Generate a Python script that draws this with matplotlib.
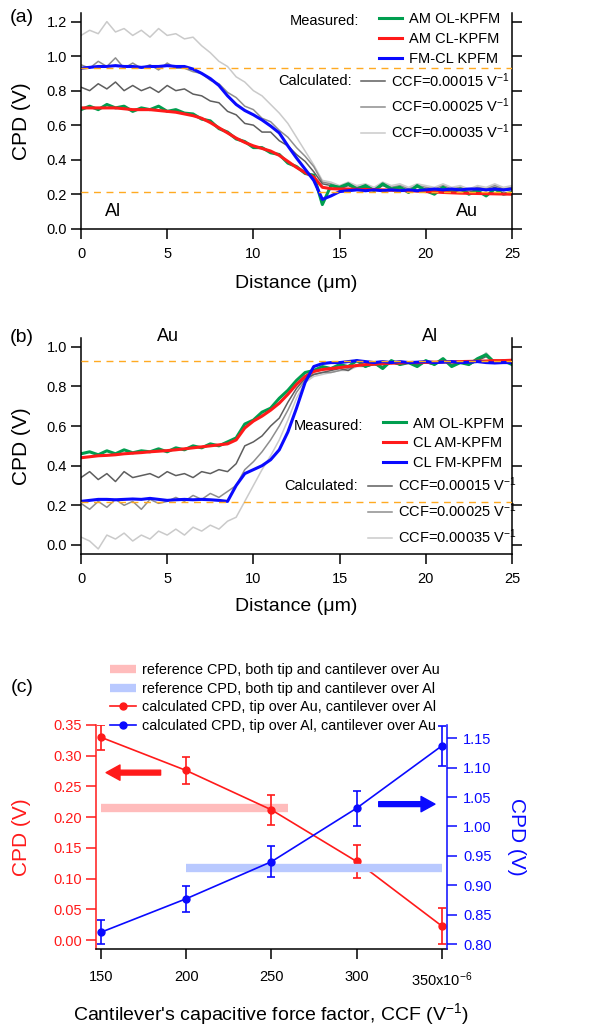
import numpy as np
import matplotlib
matplotlib.use('Agg')
import matplotlib.pyplot as plt
from matplotlib.ticker import FormatStrFormatter

plt.rcParams['font.family'] = ['Liberation Sans', 'DejaVu Sans']
plt.rcParams['mathtext.fontset'] = 'custom'
plt.rcParams['mathtext.rm'] = 'Liberation Sans'
plt.rcParams['mathtext.it'] = 'Liberation Sans:italic'
plt.rcParams['mathtext.default'] = 'regular'

# ---- data: CPD line profiles, sampled every 0.5 um ----
distance = np.arange(0, 25.01, 0.5)

# (a) tip scans from Al onto Au
a_am_ol = [0.69, 0.71, 0.69, 0.72, 0.70, 0.71, 0.68, 0.70, 0.69, 0.71,
           0.68, 0.69, 0.67, 0.665, 0.635, 0.625, 0.58, 0.56, 0.52, 0.505,
           0.47, 0.47, 0.44, 0.43, 0.38, 0.36, 0.32, 0.31, 0.14, 0.25,
           0.24, 0.26, 0.23, 0.25, 0.22, 0.26, 0.23, 0.24, 0.21, 0.25,
           0.22, 0.20, 0.24, 0.21, 0.23, 0.20, 0.22, 0.19, 0.23, 0.20,
           0.21]
a_am_cl = [0.700, 0.700, 0.700, 0.700, 0.700, 0.695, 0.690, 0.690, 0.690, 0.685,
           0.680, 0.675, 0.665, 0.655, 0.640, 0.615, 0.585, 0.555, 0.525, 0.500,
           0.480, 0.465, 0.450, 0.425, 0.390, 0.355, 0.325, 0.300, 0.240, 0.232,
           0.230, 0.230, 0.228, 0.227, 0.226, 0.225, 0.223, 0.222, 0.220, 0.218,
           0.215, 0.213, 0.210, 0.208, 0.206, 0.205, 0.204, 0.203, 0.202, 0.201,
           0.200]
a_fm_cl = [0.930, 0.935, 0.940, 0.940, 0.945, 0.940, 0.940, 0.935, 0.940, 0.940,
           0.945, 0.940, 0.940, 0.925, 0.900, 0.870, 0.830, 0.770, 0.720, 0.685,
           0.660, 0.630, 0.595, 0.555, 0.480, 0.410, 0.345, 0.280, 0.170, 0.190,
           0.215, 0.220, 0.225, 0.220, 0.225, 0.220, 0.225, 0.220, 0.225, 0.220,
           0.225, 0.230, 0.225, 0.230, 0.225, 0.230, 0.230, 0.225, 0.230, 0.225,
           0.230]
a_ccf15 = [0.82, 0.80, 0.84, 0.81, 0.85, 0.80, 0.83, 0.80, 0.82, 0.79,
           0.83, 0.80, 0.81, 0.78, 0.77, 0.74, 0.73, 0.68, 0.66, 0.61,
           0.60, 0.56, 0.56, 0.51, 0.48, 0.43, 0.39, 0.33, 0.26, 0.25,
           0.23, 0.25, 0.23, 0.24, 0.22, 0.25, 0.23, 0.24, 0.22, 0.24,
           0.23, 0.22, 0.24, 0.22, 0.23, 0.21, 0.23, 0.22, 0.24, 0.22,
           0.23]
a_ccf25 = [0.95, 0.93, 0.97, 0.94, 0.99, 0.93, 0.96, 0.93, 0.95, 0.92,
           0.96, 0.93, 0.93, 0.91, 0.90, 0.86, 0.84, 0.79, 0.76, 0.71,
           0.69, 0.64, 0.62, 0.57, 0.53, 0.47, 0.42, 0.36, 0.27, 0.26,
           0.24, 0.26, 0.24, 0.25, 0.23, 0.26, 0.24, 0.25, 0.23, 0.25,
           0.24, 0.23, 0.25, 0.23, 0.24, 0.22, 0.24, 0.23, 0.25, 0.23,
           0.24]
a_ccf35 = [1.12, 1.15, 1.13, 1.20, 1.14, 1.16, 1.12, 1.15, 1.11, 1.16,
           1.12, 1.13, 1.10, 1.11, 1.06, 1.02, 0.97, 0.94, 0.88, 0.85,
           0.80, 0.77, 0.72, 0.67, 0.61, 0.53, 0.45, 0.37, 0.28, 0.27,
           0.25, 0.27, 0.25, 0.26, 0.24, 0.27, 0.25, 0.26, 0.24, 0.26,
           0.25, 0.24, 0.26, 0.24, 0.25, 0.23, 0.25, 0.24, 0.26, 0.24,
           0.25]

# (b) tip scans from Au onto Al
b_am_ol = [0.46, 0.47, 0.455, 0.475, 0.46, 0.48, 0.465, 0.475, 0.47, 0.485,
           0.47, 0.49, 0.48, 0.50, 0.49, 0.51, 0.50, 0.52, 0.54, 0.61,
           0.63, 0.67, 0.69, 0.74, 0.78, 0.83, 0.87, 0.88, 0.90, 0.89,
           0.91, 0.90, 0.93, 0.90, 0.92, 0.89, 0.93, 0.91, 0.92, 0.90,
           0.93, 0.91, 0.94, 0.90, 0.92, 0.91, 0.94, 0.96, 0.92, 0.93,
           0.91]
b_cl_am = [0.440, 0.445, 0.450, 0.452, 0.455, 0.460, 0.463, 0.466, 0.470, 0.473,
           0.476, 0.480, 0.485, 0.490, 0.495, 0.500, 0.505, 0.510, 0.530, 0.590,
           0.625, 0.650, 0.680, 0.715, 0.760, 0.810, 0.850, 0.875, 0.885, 0.890,
           0.895, 0.900, 0.905, 0.910, 0.912, 0.915, 0.917, 0.918, 0.920, 0.920,
           0.921, 0.922, 0.923, 0.924, 0.925, 0.926, 0.927, 0.928, 0.930, 0.930,
           0.932]
b_cl_fm = [0.220, 0.225, 0.230, 0.230, 0.228, 0.230, 0.232, 0.230, 0.235, 0.230,
           0.225, 0.228, 0.230, 0.228, 0.230, 0.228, 0.225, 0.220, 0.300, 0.360,
           0.380, 0.400, 0.430, 0.480, 0.570, 0.690, 0.820, 0.900, 0.915, 0.920,
           0.920, 0.925, 0.930, 0.925, 0.920, 0.925, 0.920, 0.925, 0.920, 0.922,
           0.925, 0.920, 0.922, 0.925, 0.920, 0.922, 0.925, 0.920, 0.918, 0.920,
           0.920]
b_ccf15 = [0.34, 0.37, 0.33, 0.36, 0.32, 0.37, 0.34, 0.35, 0.36, 0.34,
           0.37, 0.35, 0.36, 0.34, 0.37, 0.36, 0.38, 0.37, 0.41, 0.50,
           0.52, 0.55, 0.60, 0.64, 0.72, 0.79, 0.84, 0.86, 0.87, 0.88,
           0.89, 0.88, 0.91, 0.90, 0.91, 0.90, 0.92, 0.91, 0.92, 0.91,
           0.92, 0.91, 0.93, 0.91, 0.92, 0.91, 0.93, 0.95, 0.92, 0.93,
           0.92]
b_ccf25 = [0.21, 0.18, 0.22, 0.19, 0.23, 0.20, 0.22, 0.18, 0.23, 0.21,
           0.22, 0.24, 0.22, 0.25, 0.23, 0.26, 0.24, 0.27, 0.30, 0.38,
           0.42, 0.47, 0.53, 0.60, 0.68, 0.77, 0.83, 0.86, 0.87, 0.87,
           0.88, 0.89, 0.91, 0.90, 0.91, 0.90, 0.92, 0.91, 0.92, 0.91,
           0.92, 0.91, 0.93, 0.91, 0.92, 0.91, 0.93, 0.96, 0.92, 0.93,
           0.92]
b_ccf35 = [0.04, 0.02, -0.02, 0.05, 0.03, 0.06, 0.02, 0.05, 0.03, 0.07,
           0.05, 0.08, 0.05, 0.09, 0.07, 0.10, 0.08, 0.12, 0.14, 0.22,
           0.30, 0.38, 0.45, 0.53, 0.63, 0.74, 0.82, 0.85, 0.86, 0.87,
           0.88, 0.88, 0.90, 0.90, 0.91, 0.90, 0.92, 0.91, 0.92, 0.91,
           0.92, 0.91, 0.93, 0.91, 0.92, 0.91, 0.93, 0.97, 0.92, 0.93,
           0.92]

# reference CPD levels (orange dashed lines)
ref_al_level = 0.93
ref_au_level = 0.215

# (c) CPD vs cantilever capacitive force factor (x1e-6 V^-1)
ccf = [150, 200, 250, 300, 350]
cpd_tip_au = [0.330, 0.276, 0.212, 0.128, 0.023]
err_tip_au = [0.020, 0.022, 0.024, 0.027, 0.029]
cpd_tip_al = [0.820, 0.877, 0.940, 1.031, 1.137]
err_tip_al = [0.020, 0.022, 0.026, 0.030, 0.034]
ref_au_ccf = [150, 260]
ref_au_cpd = [0.215, 0.215]
ref_al_ccf = [200, 350]
ref_al_cpd = [0.93, 0.93]

calc_labels = ['CCF=0.00015 V$^{-1}$', 'CCF=0.00025 V$^{-1}$', 'CCF=0.00035 V$^{-1}$']

W, H = 590, 1028
GREEN = '#009e4f'
RED = '#ff1a1a'
BLUE = '#0a0aff'
GRAYS = ['#5e5e5e', '#8e8e8e', '#cacaca']
ORANGE = '#ffaa22'


def fx(px):
    return px / W


def fy(py):
    return 1 - py / H


fig = plt.figure(figsize=(W / 100, H / 100), dpi=100)


def profile_panel(rect, calc, measured, meas_labels, ylim, ytop, ylabel_y, anchors, texts):
    ax = fig.add_axes(rect)
    calc_lines = []
    for vals, c in zip(calc[::-1], GRAYS[::-1]):
        calc_lines.insert(0, ax.plot(distance, vals, color=c, lw=1.1)[0])
    meas_lines = []
    for vals, c in zip(measured, [GREEN, RED, BLUE]):
        meas_lines.append(ax.plot(distance, vals, color=c, lw=2.2)[0])
    ax.axhline(ref_al_level, color=ORANGE, lw=1.0, ls=(0, (5, 4)), zorder=5)
    ax.axhline(ref_au_level, color=ORANGE, lw=1.0, ls=(0, (5, 4)), zorder=5)

    ax.set_xlim(0, 25)
    ax.set_ylim(*ylim)
    ax.set_yticks(np.arange(0, ytop + 0.01, 0.2))
    ax.yaxis.set_major_formatter(FormatStrFormatter('%.1f'))
    ax.spines['top'].set_visible(False)
    for s in ax.spines.values():
        s.set_linewidth(1.1)
    ax.tick_params(axis='y', direction='out', length=7, width=1.1, right=True,
                   labelsize=10.5, pad=3)
    ax.tick_params(axis='x', direction='out', length=7, width=1.1, labelsize=10.5, pad=6)
    ax.set_xlabel('Distance (\u03bcm)', fontsize=14)
    ax.xaxis.set_label_coords(0.5, ylabel_y)
    ax.set_ylabel('CPD (V)', fontsize=15)
    ax.yaxis.set_label_coords(-0.115, 0.5)

    for x, y, s in texts:
        ax.text(x, y, s, fontsize=13, ha='center', va='center', clip_on=False)

    (mx, my, mtx), (cx, cy, ctx) = anchors
    fig.legend(meas_lines, meas_labels, loc='upper left',
               bbox_to_anchor=(fx(mx), fy(my)), frameon=False, borderpad=0,
               borderaxespad=0, fontsize=10.5, handlelength=1.6, handletextpad=0.45,
               labelspacing=0.4)
    fig.text(fx(mtx), fy(my + 9), 'Measured:', ha='right', va='center', fontsize=10.5)
    fig.legend(calc_lines, calc_labels, loc='upper left',
               bbox_to_anchor=(fx(cx), fy(cy)), frameon=False, borderpad=0,
               borderaxespad=0, fontsize=10.5, handlelength=1.65, handletextpad=0.4,
               labelspacing=0.5)
    fig.text(fx(ctx), fy(cy + 10), 'Calculated:', ha='right', va='center', fontsize=10.5)
    return ax


# ---- panel (a) ----
ax_a = profile_panel([fx(81), fy(228.7), 431 / W, 215.7 / H],
                     [a_ccf15, a_ccf25, a_ccf35], [a_am_ol, a_am_cl, a_fm_cl],
                     ['AM OL-KPFM', 'AM CL-KPFM', 'FM-CL KPFM'],
                     (0, 1.25), 1.2, -0.213,
                     [(379, 12, 359), (361, 71, 352)],
                     [(1.86, 0.098, 'Al'), (22.4, 0.098, 'Au')])

# ---- panel (b) ----
ax_b = profile_panel([fx(81), fy(554.3), 431 / W, 216.3 / H],
                     [b_ccf15, b_ccf25, b_ccf35], [b_am_ol, b_cl_am, b_cl_fm],
                     ['AM OL-KPFM', 'CL AM-KPFM', 'CL FM-KPFM'],
                     (-0.047, 1.044), 1.0, -0.204,
                     [(383, 416.5, 363), (368, 475.7, 358)],
                     [(5.03, 1.05, 'Au'), (20.25, 1.05, 'Al')])

# ---- panel (c) ----
ax_c = fig.add_axes([fx(95.7), fy(949.3), 351 / W, 224.3 / H])
ax_r = ax_c.twinx()

ref_au_line, = ax_c.plot(ref_au_ccf, ref_au_cpd, color='#ffbcbc', lw=6, solid_capstyle='butt', zorder=1)
ref_al_line, = ax_r.plot(ref_al_ccf, ref_al_cpd, color='#b9c9ff', lw=6, solid_capstyle='butt', zorder=1)
eb_au = ax_c.errorbar(ccf, cpd_tip_au, yerr=err_tip_au, color=RED, marker='o', ms=5,
                      lw=1.2, elinewidth=1.2, capsize=3, capthick=1.2, zorder=3)
eb_al = ax_r.errorbar(ccf, cpd_tip_al, yerr=err_tip_al, color=BLUE, marker='o', ms=5,
                      lw=1.2, elinewidth=1.2, capsize=3, capthick=1.2, zorder=3)

ax_c.annotate('', xy=(153, 0.2725), xytext=(185, 0.2725),
              arrowprops=dict(facecolor=RED, edgecolor=RED, width=3.5, headwidth=11,
                              headlength=10, shrink=0))
ax_r.annotate('', xy=(346, 1.038), xytext=(313, 1.038),
              arrowprops=dict(facecolor=BLUE, edgecolor=BLUE, width=3.5, headwidth=11,
                              headlength=10, shrink=0))

ax_c.set_xlim(146.9, 352.9)
ax_c.set_ylim(-0.015, 0.35)
ax_r.set_ylim(0.791, 1.1726)
ax_c.set_xticks(ccf)
ax_c.set_xticklabels(['150', '200', '250', '300', '350x10$^{-6}$'])
ax_c.set_yticks(np.arange(0, 0.351, 0.05))
ax_c.yaxis.set_major_formatter(FormatStrFormatter('%.2f'))
ax_r.set_yticks(np.arange(0.80, 1.151, 0.05))
ax_r.yaxis.set_major_formatter(FormatStrFormatter('%.2f'))

ax_c.spines['top'].set_visible(False)
ax_c.spines['right'].set_visible(False)
ax_c.spines['left'].set_color(RED)
for s in ['top', 'left', 'bottom']:
    ax_r.spines[s].set_visible(False)
ax_r.spines['right'].set_color(BLUE)
for s in list(ax_c.spines.values()) + list(ax_r.spines.values()):
    s.set_linewidth(1.1)
ax_c.tick_params(axis='x', direction='out', length=7, width=1.1, labelsize=10.5, pad=8)
ax_c.tick_params(axis='y', direction='out', length=7, width=1.1, colors=RED,
                 labelsize=10.5, pad=3)
ax_r.tick_params(axis='y', direction='out', length=7, width=1.1, colors=BLUE,
                 labelsize=10.5, pad=5)

ax_c.set_xlabel("Cantilever's capacitive force factor, CCF (V$^{-1}$)", fontsize=14)
ax_c.xaxis.set_label_coords(0.5, -0.23)
ax_c.set_ylabel('CPD (V)', fontsize=15, color=RED)
ax_c.yaxis.set_label_coords(-0.185, 0.5)
ax_r.set_ylabel('CPD (V)', fontsize=15, color=BLUE, rotation=270, va='bottom')
ax_r.yaxis.set_label_coords(1.172, 0.5)

fig.legend([ref_au_line, ref_al_line, eb_au[0], eb_al[0]],
           ['reference CPD, both tip and cantilever over Au',
            'reference CPD, both tip and cantilever over Al',
            'calculated CPD, tip over Au, cantilever over Al',
            'calculated CPD, tip over Al, cantilever over Au'],
           loc='upper left', bbox_to_anchor=(fx(110), fy(663)), frameon=False,
           borderpad=0, borderaxespad=0, fontsize=10.4, handlelength=1.8,
           handletextpad=0.42, labelspacing=0.32, numpoints=1)

# panel letters
fig.text(fx(22), fy(17), '(a)', fontsize=14, ha='center', va='center')
fig.text(fx(22), fy(337), '(b)', fontsize=14, ha='center', va='center')
fig.text(fx(22), fy(688), '(c)', fontsize=14, ha='center', va='center')

fig.savefig('out.png', dpi=100)
